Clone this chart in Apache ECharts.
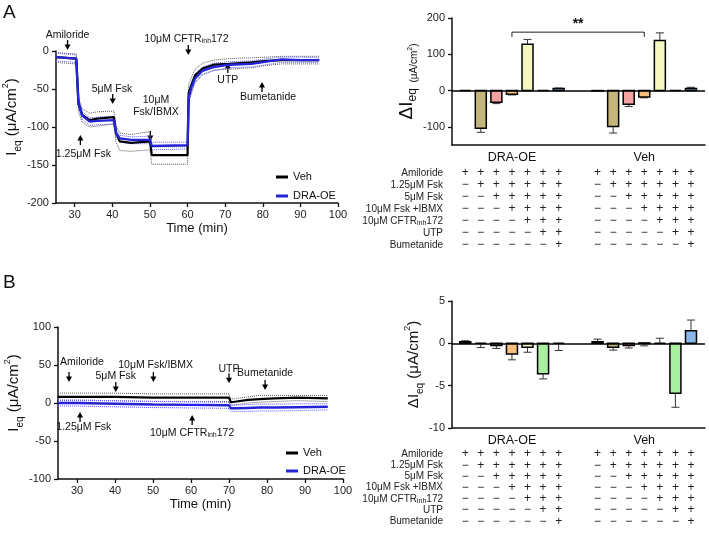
<!DOCTYPE html>
<html>
<head>
<meta charset="utf-8">
<script src="https://cdn.jsdelivr.net/npm/echarts@6/dist/echarts.min.js"></script>
<style>
html, body {margin:0; padding:0; background:#fff;}
#main {width:709px; height:536px;}
</style>
</head>
<body>
<div id="main"></div>
<script>
// ---- panel A, time course (min / uA per cm2) ----
var timeA   = [25, 30.4, 31, 32, 34, 36, 40.4, 41, 42, 45, 50, 50.5, 60, 60.3, 61, 62, 64, 67, 71, 77, 81, 85, 90, 95];
var vehA    = [-8, -10, -70, -84, -91, -89, -87, -108, -119, -121, -119, -137, -137, -55, -45, -32, -23, -18, -17, -15, -13, -12, -12, -12];
var vehAHi  = [-2, -4, -62, -76, -82, -80, -79, -98, -108, -110, -106, -126, -126, -44, -35, -24, -16, -12, -10, -9, -8, -7, -7, -7];
var vehALo  = [-15, -17, -80, -94, -100, -99, -96, -120, -131, -132, -130, -149, -149, -66, -56, -41, -31, -25, -24, -22, -19, -17, -17, -17];
var draA    = [-8, -10, -68, -85, -93, -92, -91, -108, -115, -117, -117, -125, -124, -62, -48, -36, -26, -21, -18, -17, -14, -11, -12, -12];
var draAHi  = [-3, -5, -63, -80, -88, -87, -86, -103, -111, -113, -112, -120, -120, -56, -42, -30, -21, -16, -14, -13, -10, -8, -8, -9];
var draALo  = [-13, -15, -74, -90, -98, -97, -96, -113, -120, -122, -122, -130, -129, -68, -54, -42, -31, -26, -22, -21, -18, -15, -15, -15];

// ---- panel B, time course ----
var timeB   = [25, 30, 40, 50, 60, 70, 70.5, 72, 75, 78, 82, 88, 96];
var vehB    = [8, 8, 8, 7, 7, 7, 1, 2, 4, 5, 6, 7, 6];
var vehBHi  = [13, 13, 13, 12, 12, 12, 5, 6, 8, 10, 10, 10, 10];
var vehBLo  = [3, 3, 3, 2, 2, 2, -3, -2, 0, 1, 2, 3, 2];
var draB    = [0, 0, -1, -2, -2.5, -3, -7, -7, -6.5, -6, -6, -5.5, -5];
var draBHi  = [4, 4, 3, 2, 1.5, 1, -3, -3, -2, -1.5, -1.5, -1, -1];
var draBLo  = [-4, -4, -5, -6, -6.5, -7, -11, -11, -11, -10.5, -10.5, -10, -9];

var timeTicks = [30, 40, 50, 60, 70, 80, 90, 100];

// ---- bar charts: delta Ieq per treatment step, signed error ----
var groups = ['DRA-OE', 'Veh'];
var draBarA = [0, -104, -32, -10, 128, 0, 5.5];
var draErrA = [0, -11, -4, -2, 13, 0, 1.5];
var vehBarA = [-1, -99, -38, -18, 138, 0, 5.5];
var vehErrA = [0, -18, -6, -2, 21, 0, 3.5];
var barTicksA = [-100, 0, 100, 200];

var draBarB = [0.2, 0, -0.25, -1.25, -0.45, -3.6, 0];
var draErrB = [0.1, -0.5, -0.35, -0.7, -0.6, -0.6, -0.85];
var vehBarB = [0.2, -0.45, -0.25, 0.05, 0, -5.9, 1.5];
var vehErrB = [0.3, -0.35, -0.3, -0.35, 0.6, -1.65, 1.25];

var barColors = ['#222222', '#c4b57c', '#f4a3a3', '#f6bf80', '#f4f8c0', '#a8f0a0', '#8ab8ec'];

// treatment table under the bars
var rowLabels = ['Amiloride', '1.25μM Fsk', '5μM Fsk', '10μM Fsk +IBMX', '10μM CFTR{s|inh}172', 'UTP', 'Bumetanide'];
var signRows = ['+++++++', '-++++++', '--+++++', '---++++', '----+++', '-----++', '------+'];

// arrows on the traces: [text, arrowT, arrowV, dir, textT, textV]
var notesA = [
  ['Amiloride', 28.1, 1.3, 'down', 28.1, 21],
  ['1.25μM Fsk', 31.5, -110.5, 'up', 32.3, -135.5],
  ['5μM Fsk', 40.1, -69.7, 'down', 39.9, -50],
  ['10μM\nFsk/IBMX', 50.1, -118.4, 'down', 51.6, -72.4],
  ['10μM CFTR{s|inh}172', 60.2, -5.3, 'down', 59.7, 15.8],
  ['UTP', 70.7, -15.8, 'up', 70.7, -38],
  ['Bumetanide', 79.8, -40.8, 'up', 81.4, -60.5]
];
var notesB = [
  ['Amiloride', 27.9, 27.6, 'down', 31.3, 54],
  ['5μM Fsk', 40.2, 14.5, 'down', 40.2, 35.5],
  ['10μM Fsk/IBMX', 50.1, 27.6, 'down', 50.7, 50],
  ['UTP', 70, 26, 'down', 70, 44.7],
  ['Bumetanide', 79.5, 17, 'down', 79.5, 39.5],
  ['1.25μM Fsk', 30.8, -11.8, 'up', 31.8, -31.6],
  ['10μM CFTR{s|inh}172', 60.3, -15.8, 'up', 60.3, -39.5]
];

var FONT = 'Liberation Sans, Arial, Helvetica, sans-serif';
var INK = '#111';
var BLUE = '#2424d6';

function zip(t, v) {
  return t.map(function (x, i) { return [x, v[i]]; });
}

function barData(vals, errs, g) {
  return vals.map(function (v, i) { return [g * 8.5 + i, v, errs[i], i]; });
}

function timeAxis(grid) {
  return {
    type: 'value', gridIndex: grid, min: 25, max: 100,
    name: 'Time (min)', nameLocation: 'middle', nameGap: 19,
    nameTextStyle: {fontSize: 13, color: INK, fontFamily: FONT},
    axisLine: {onZero: false, lineStyle: {color: INK, width: 1.5}},
    axisTick: {customValues: timeTicks, length: 4, lineStyle: {color: INK, width: 1.3}},
    axisLabel: {customValues: timeTicks, fontSize: 11, color: '#222', margin: 6, fontFamily: FONT},
    splitLine: {show: false}
  };
}

var ieqRich = {
  b: {fontSize: 15, lineHeight: 22, color: INK, fontFamily: FONT},
  s: {fontSize: 10, verticalAlign: 'bottom', color: INK, fontFamily: FONT},
  p: {fontSize: 9, verticalAlign: 'top', color: INK, fontFamily: FONT}
};

function traceYAxis(grid, min, max, gap) {
  return {
    type: 'value', gridIndex: grid, min: min, max: max, interval: 50,
    name: '{b|I}{s|eq}{b| (μA/cm}{p|2}{b|)}', nameLocation: 'middle', nameGap: gap,
    nameTextStyle: {rich: ieqRich, padding: [0, 0, 0, 20]},
    axisLine: {show: true, onZero: false, lineStyle: {color: INK, width: 1.5}},
    axisTick: {show: true, length: 4, lineStyle: {color: INK, width: 1.3}},
    axisLabel: {fontSize: 11, color: '#222', margin: 7, fontFamily: FONT},
    splitLine: {show: false}
  };
}

function slotAxis(grid) {
  return {
    type: 'value', gridIndex: grid, min: -0.85, max: 15.4,
    axisLine: {onZero: false, lineStyle: {color: INK, width: 1.5}},
    axisTick: {show: false}, axisLabel: {show: false}, splitLine: {show: false}
  };
}

function barYAxis(grid, opt) {
  var ax = {
    type: 'value', gridIndex: grid, min: opt.min, max: opt.max,
    name: opt.name, nameLocation: 'middle', nameGap: opt.gap,
    nameTextStyle: {rich: opt.rich},
    axisLine: {show: true, onZero: false, lineStyle: {color: INK, width: 1.5}},
    axisTick: {show: true, length: 4, lineStyle: {color: INK, width: 1.3}},
    axisLabel: {fontSize: 11, color: '#222', margin: 7, fontFamily: FONT},
    splitLine: {show: false}
  };
  if (opt.ticks) {
    ax.axisTick.customValues = opt.ticks;
    ax.axisLabel.customValues = opt.ticks;
  } else {
    ax.interval = opt.interval;
  }
  return ax;
}

function lineSeries(name, grid, t, v, color, width, dotted) {
  return {
    name: name, type: 'line', xAxisIndex: grid, yAxisIndex: grid,
    data: zip(t, v), showSymbol: false, symbol: 'none', silent: true,
    lineStyle: {color: color, width: width, type: dotted ? 'dotted' : 'solid'},
    itemStyle: {color: color}, z: dotted ? 2 : 3
  };
}

function renderBar(params, api) {
  var x = api.value(0), v = api.value(1), e = api.value(2), ci = api.value(3);
  var p0 = api.coord([x, 0]);
  var p1 = api.coord([x, v]);
  var pe = api.coord([x, v + e]);
  var w = 11;
  var kids = [];
  if (e !== 0) {
    kids.push({type: 'line', shape: {x1: p0[0], y1: p1[1], x2: p0[0], y2: pe[1]},
      style: {stroke: '#333', lineWidth: 1}});
    kids.push({type: 'line', shape: {x1: p0[0] - 4, y1: pe[1], x2: p0[0] + 4, y2: pe[1]},
      style: {stroke: '#333', lineWidth: 1}});
  }
  kids.push({type: 'rect',
    shape: {x: p0[0] - w / 2, y: Math.min(p0[1], p1[1]), width: w, height: Math.abs(p1[1] - p0[1])},
    style: {fill: barColors[ci], stroke: '#000', lineWidth: 1.5}});
  return {type: 'group', children: kids};
}

function barSeries(grid, data) {
  return {
    type: 'custom', coordinateSystem: 'cartesian2d', xAxisIndex: grid, yAxisIndex: grid,
    data: data, renderItem: renderBar, silent: true, z: 3,
    markLine: {
      silent: true, symbol: 'none', label: {show: false},
      lineStyle: {color: '#000', type: 'solid', width: 1.5},
      data: [{yAxis: 0}]
    }
  };
}

var barRichA = {
  d: {fontSize: 19, lineHeight: 24, color: INK, fontFamily: FONT},
  s: {fontSize: 12, verticalAlign: 'bottom', color: INK, fontFamily: FONT},
  u: {fontSize: 10, verticalAlign: 'bottom', color: INK, fontFamily: FONT},
  p: {fontSize: 7, verticalAlign: 'bottom', padding: [0, 0, 6, 0], color: INK, fontFamily: FONT}
};
var barRichB = {
  d: {fontSize: 15, lineHeight: 22, color: INK, fontFamily: FONT},
  s: {fontSize: 10, verticalAlign: 'bottom', color: INK, fontFamily: FONT},
  p: {fontSize: 9, verticalAlign: 'top', color: INK, fontFamily: FONT}
};

var chart = echarts.init(document.getElementById('main'), null, {renderer: 'canvas'});

chart.setOption({
  animation: false,
  backgroundColor: '#fff',
  textStyle: {fontFamily: FONT},
  grid: [
    {left: 52, top: 51, width: 286, height: 152},
    {left: 452, top: 18, width: 253, height: 127},
    {left: 58, top: 327, width: 285, height: 152},
    {left: 452, top: 301, width: 253, height: 127}
  ],
  legend: [
    {data: ['Veh', 'DRA-OE'], orient: 'vertical', left: 271, top: 166, icon: 'rect',
      itemWidth: 12, itemHeight: 3, itemGap: 7, selectedMode: false,
      textStyle: {fontSize: 11, color: INK, lineHeight: 12, fontFamily: FONT}},
    {data: ['Veh', 'DRA-OE'], orient: 'vertical', left: 281, top: 442, icon: 'rect',
      itemWidth: 12, itemHeight: 3, itemGap: 6, selectedMode: false,
      textStyle: {fontSize: 11, color: INK, lineHeight: 12, fontFamily: FONT}}
  ],
  xAxis: [timeAxis(0), slotAxis(1), timeAxis(2), slotAxis(3)],
  yAxis: [
    traceYAxis(0, -200, 0, 20),
    barYAxis(1, {min: -150, max: 200, ticks: barTicksA, gap: 31, rich: barRichA,
      name: '{d|ΔI}{s|eq}{u|  (μA/cm}{p|2}{u|)}'}),
    traceYAxis(2, -100, 100, 27),
    barYAxis(3, {min: -10, max: 5, interval: 5, gap: 27, rich: barRichB,
      name: '{d|ΔI}{s|eq}{d| (μA/cm}{p|2}{d|)}'})
  ],
  series: [
    lineSeries('Veh+', 0, timeA, vehAHi, '#555', 1, true),
    lineSeries('Veh-', 0, timeA, vehALo, '#555', 1, true),
    lineSeries('DRA+', 0, timeA, draAHi, '#5a5aff', 1, true),
    lineSeries('DRA-', 0, timeA, draALo, '#5a5aff', 1, true),
    lineSeries('Veh', 0, timeA, vehA, '#000', 2.2, false),
    lineSeries('DRA-OE', 0, timeA, draA, BLUE, 2.4, false),

    lineSeries('Veh+', 2, timeB, vehBHi, '#555', 1, true),
    lineSeries('Veh-', 2, timeB, vehBLo, '#555', 1, true),
    lineSeries('DRA+', 2, timeB, draBHi, '#5a5aff', 1, true),
    lineSeries('DRA-', 2, timeB, draBLo, '#5a5aff', 1, true),
    lineSeries('Veh', 2, timeB, vehB, '#000', 2.2, false),
    lineSeries('DRA-OE', 2, timeB, draB, BLUE, 2.4, false),

    barSeries(1, barData(draBarA, draErrA, 0).concat(barData(vehBarA, vehErrA, 1))),
    barSeries(3, barData(draBarB, draErrB, 0).concat(barData(vehBarB, vehErrB, 1)))
  ]
});

// ---- annotations placed through the axes ----
var subRich = {s: {fontSize: 7, verticalAlign: 'bottom', fill: INK, fontFamily: FONT}};
var g = [];

function px(grid, x, y) {
  return chart.convertToPixel({gridIndex: grid}, [x, y]);
}

function addNotes(grid, notes) {
  notes.forEach(function (n) {
    var tip = px(grid, n[1], n[2]);
    var lab = px(grid, n[4], n[5]);
    var s = n[3] === 'down' ? -1 : 1;
    g.push({type: 'line', silent: true,
      shape: {x1: tip[0], y1: tip[1] + s * 10, x2: tip[0], y2: tip[1] + s * 4},
      style: {stroke: '#000', lineWidth: 1.3}});
    g.push({type: 'polygon', silent: true,
      shape: {points: [[tip[0], tip[1]], [tip[0] - 3, tip[1] + s * 5.5], [tip[0] + 3, tip[1] + s * 5.5]]},
      style: {fill: '#000'}});
    g.push({type: 'text', silent: true, x: lab[0], y: lab[1],
      style: {text: n[0], rich: subRich, fontSize: 10.5, lineHeight: 12, fontFamily: FONT,
        fill: INK, align: 'center', verticalAlign: 'middle'}});
  });
}
addNotes(0, notesA);
addNotes(2, notesB);

function addTable(grid, groupY, rowY0, rowStep) {
  groups.forEach(function (name, gi) {
    var c = px(grid, gi * 8.5 + 3, 0);
    g.push({type: 'text', silent: true, x: c[0], y: groupY,
      style: {text: name, fontSize: 12.5, fontFamily: FONT, fill: INK, align: 'center', verticalAlign: 'middle'}});
  });
  rowLabels.forEach(function (lbl, r) {
    var y = rowY0 + r * rowStep;
    g.push({type: 'text', silent: true, x: 443, y: y,
      style: {text: lbl, rich: subRich, fontSize: 10, lineHeight: 12, fontFamily: FONT, fill: '#222',
        align: 'right', verticalAlign: 'middle'}});
    groups.forEach(function (name, gi) {
      for (var j = 0; j < 7; j++) {
        var c = px(grid, gi * 8.5 + j, 0);
        var sign = signRows[r].charAt(j) === '+' ? '+' : '−';
        g.push({type: 'text', silent: true, x: c[0], y: y,
          style: {text: sign, fontSize: 12, fontFamily: FONT, fill: '#222', align: 'center', verticalAlign: 'middle'}});
      }
    });
  });
}
addTable(1, 158, 173, 12);
addTable(3, 441, 454, 11.2);

// significance bracket between the two CFTR-inh steps
var b0 = px(1, 3, 148), b1 = px(1, 3, 161), b2 = px(1, 11.5, 161), b3 = px(1, 11.5, 148);
g.push({type: 'polyline', silent: true, shape: {points: [b0, b1, b2, b3]},
  style: {stroke: '#222', lineWidth: 1, fill: null}});
var st = px(1, 7.25, 182);
g.push({type: 'text', silent: true, x: st[0], y: st[1],
  style: {text: '**', fontSize: 14, fontWeight: 'bold', fontFamily: FONT, fill: INK, align: 'center', verticalAlign: 'middle'}});

// panel letters
g.push({type: 'text', silent: true, x: 3, y: 3,
  style: {text: 'A', fontSize: 19, fontFamily: FONT, fill: INK}});
g.push({type: 'text', silent: true, x: 3, y: 273,
  style: {text: 'B', fontSize: 19, fontFamily: FONT, fill: INK}});

chart.setOption({graphic: {elements: g}});
</script>
</body>
</html>
